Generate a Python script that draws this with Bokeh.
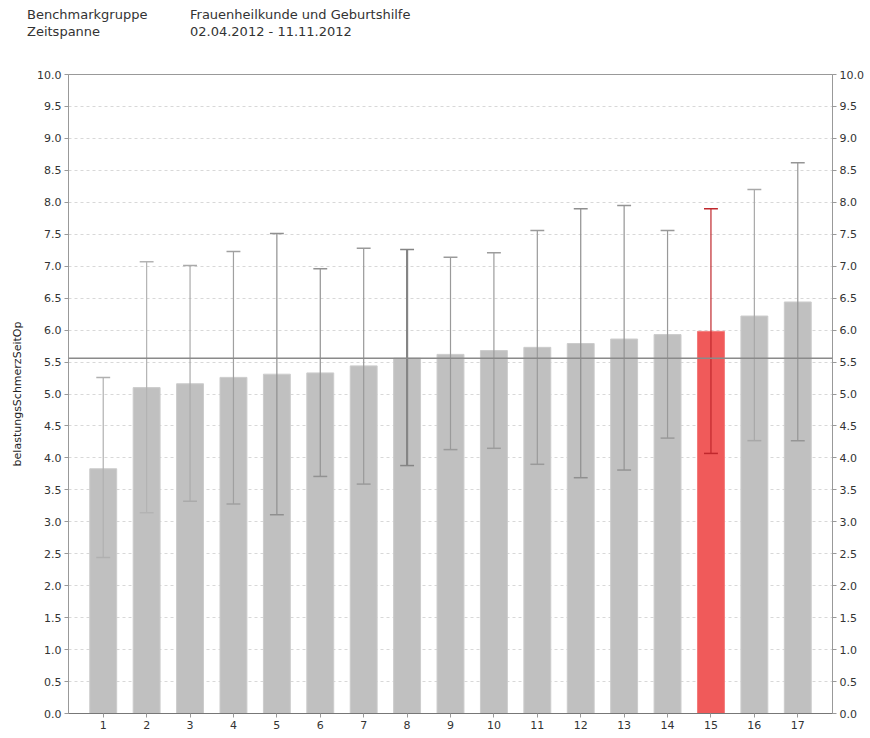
from bokeh.plotting import figure
from bokeh.models import Range1d, FixedTicker, LinearAxis, Span, NumeralTickFormatter, ColumnDataSource, Div
from bokeh.layouts import column
from bokeh.embed import file_html
from bokeh.resources import INLINE

# ---- data ----
header_labels = ["Benchmarkgruppe", "Zeitspanne"]
header_values = ["Frauenheilkunde und Geburtshilfe", "02.04.2012 - 11.11.2012"]
y_label = "belastungsSchmerzSeitOp"

categories = list(range(1, 18))
means = [3.83, 5.10, 5.16, 5.26, 5.31, 5.33, 5.44, 5.56, 5.62, 5.68, 5.73, 5.79, 5.86, 5.93, 5.98, 6.22, 6.44]
upper = [5.26, 7.07, 7.01, 7.23, 7.51, 6.96, 7.28, 7.26, 7.14, 7.21, 7.56, 7.90, 7.95, 7.56, 7.90, 8.20, 8.62]
lower = [2.44, 3.14, 3.32, 3.28, 3.11, 3.71, 3.59, 3.88, 4.13, 4.15, 3.90, 3.69, 3.81, 4.31, 4.07, 4.27, 4.27]
highlight = 15
overall_mean = 5.56
y_ticks = [i * 0.5 for i in range(21)]

# ---- styles ----
FONT = "DejaVu Sans"
bar_colors = ["#f05a5a" if c == highlight else "#c0c0c0" for c in categories]
bar_lines = ["#f37a7a" if c == highlight else "#cccccc" for c in categories]
err_colors = ["#b0b0b0", "#b3b3b3", "#aaaaaa", "#a0a0a0", "#8f8f8f", "#929292", "#9a9a9a", "#858585",
              "#9a9a9a", "#9c9c9c", "#9a9a9a", "#8f8f8f", "#949494", "#999999", "#c0282d", "#a8a8a8", "#959595"]
err_widths = [1.2] * 17
err_widths[7] = 2.2
cap_half = 0.16

# ---- header (HTML) ----
rows = ""
for i, (lab, val) in enumerate(zip(header_labels, header_values)):
    top = 7 + i * 17
    rows += (f'<span style="position:absolute;left:27px;top:{top}px;white-space:nowrap">{lab}</span>'
             f'<span style="position:absolute;left:190px;top:{top}px;white-space:nowrap">{val}</span>')
hdr = Div(text=f'<div style="position:relative;width:866px;height:50px;font-family:\'{FONT}\';'
               f'font-size:13px;line-height:15px;color:#333333">{rows}</div>',
          width=866, height=50, margin=0)

# ---- main chart ----
p = figure(width=866, height=684, output_backend="svg", toolbar_location=None,
           x_range=Range1d(0.2, 17.8), y_range=Range1d(0, 10),
           min_border_left=68, min_border_right=33, min_border_top=24, min_border_bottom=21)
p.outline_line_color = "#999999"
p.xgrid.visible = False
p.ygrid.ticker = FixedTicker(ticks=y_ticks)
p.ygrid.grid_line_color = "#d8d8d8"
p.ygrid.grid_line_dash = "3 3"
p.ygrid.grid_line_width = 1

src = ColumnDataSource(dict(x=categories, top=means, up=upper, lo=lower,
                            fc=bar_colors, lc=bar_lines, ec=err_colors, ew=err_widths,
                            cx0=[c - cap_half for c in categories], cx1=[c + cap_half for c in categories]))

p.vbar(x="x", top="top", width=0.62, bottom=0, fill_color="fc", line_color="lc", line_width=1, source=src)

mean_line = Span(location=overall_mean, dimension="width", line_color="#8a8a8a", line_width=1.5)
p.add_layout(mean_line)

p.segment(x0="x", y0="lo", x1="x", y1="up", line_color="ec", line_width="ew", source=src)
p.segment(x0="cx0", y0="up", x1="cx1", y1="up", line_color="ec", line_width=1.5, source=src)
p.segment(x0="cx0", y0="lo", x1="cx1", y1="lo", line_color="ec", line_width=1.5, source=src)

for ax in p.yaxis:
    ax.ticker = FixedTicker(ticks=y_ticks)
    ax.formatter = NumeralTickFormatter(format="0.0")
p.yaxis.axis_label = y_label

right = LinearAxis(ticker=FixedTicker(ticks=y_ticks), formatter=NumeralTickFormatter(format="0.0"))
p.add_layout(right, "right")

p.xaxis.ticker = FixedTicker(ticks=categories)

for ax in p.xaxis + p.yaxis + [right]:
    ax.axis_line_color = "#999999"
    ax.major_tick_line_color = "#999999"
    ax.major_tick_out = 4
    ax.major_tick_in = 0
    ax.minor_tick_line_color = None
    ax.major_label_text_font = FONT
    ax.major_label_text_font_size = "11px"
    ax.major_label_text_color = "#333333"
    ax.major_label_standoff = 3

p.xaxis.axis_line_color = "#777777"
p.yaxis.axis_label_text_font = FONT
p.yaxis.axis_label_text_font_size = "11px"
p.yaxis.axis_label_text_font_style = "normal"
p.yaxis.axis_label_text_color = "#222222"
p.yaxis.axis_label_standoff = 10

layout = column(hdr, p, spacing=0)
open("out.html", "w").write(file_html(layout, INLINE))
